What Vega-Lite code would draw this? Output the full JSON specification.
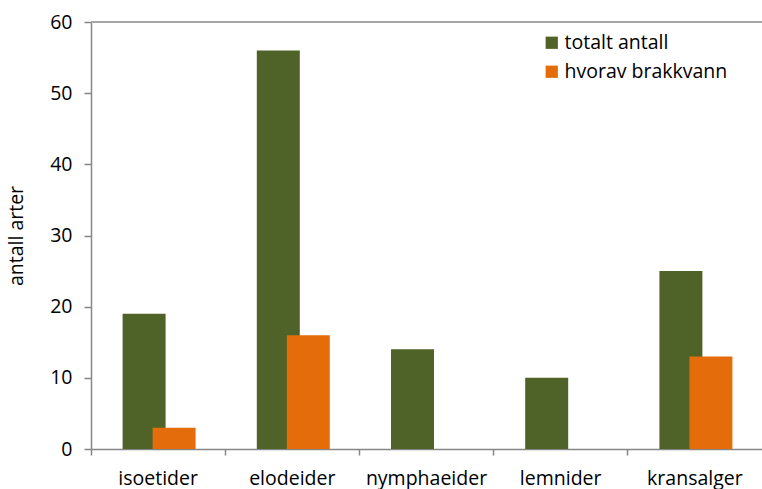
{
  "$schema": "https://vega.github.io/schema/vega-lite/v6.json",
  "width": 671,
  "height": 427,
  "autosize": {"type": "none"},
  "padding": {"left": 91, "top": 22, "right": 0, "bottom": 40},
  "background": "white",
  "config": {
    "view": {"stroke": null},
    "font": "Open Sans"
  },
  "data": {
    "values": [
      {"gruppe": "isoetider", "serie": "totalt antall", "antall": 19},
      {"gruppe": "elodeider", "serie": "totalt antall", "antall": 56},
      {"gruppe": "nymphaeider", "serie": "totalt antall", "antall": 14},
      {"gruppe": "lemnider", "serie": "totalt antall", "antall": 10},
      {"gruppe": "kransalger", "serie": "totalt antall", "antall": 25},
      {"gruppe": "isoetider", "serie": "hvorav brakkvann", "antall": 3},
      {"gruppe": "elodeider", "serie": "hvorav brakkvann", "antall": 16},
      {"gruppe": "nymphaeider", "serie": "hvorav brakkvann", "antall": 0},
      {"gruppe": "lemnider", "serie": "hvorav brakkvann", "antall": 0},
      {"gruppe": "kransalger", "serie": "hvorav brakkvann", "antall": 13}
    ]
  },
  "encoding": {
    "x": {
      "field": "gruppe",
      "type": "nominal",
      "sort": ["isoetider", "elodeider", "nymphaeider", "lemnider", "kransalger"],
      "scale": {"paddingInner": 0, "paddingOuter": 0},
      "axis": {
        "title": null,
        "labelAngle": 0,
        "labelFont": "Open Sans",
        "labelFontSize": 19.5,
        "labelColor": "#000000",
        "labelPadding": 14,
        "bandPosition": 0,
        "tickSize": 6,
        "tickColor": "#868686",
        "tickWidth": 1.5,
        "domainColor": "#868686",
        "domainWidth": 1.5
      }
    },
    "y": {
      "field": "antall",
      "type": "quantitative",
      "scale": {"domain": [0, 60], "nice": false},
      "axis": {
        "title": "antall arter",
        "titleFont": "Open Sans",
        "titleFontSize": 19.5,
        "titleFontWeight": "normal",
        "titleColor": "#000000",
        "titlePadding": 23,
        "values": [0, 10, 20, 30, 40, 50, 60],
        "grid": false,
        "labelFont": "Open Sans",
        "labelFontSize": 19.5,
        "labelColor": "#000000",
        "labelPadding": 12,
        "tickSize": 7,
        "tickColor": "#868686",
        "tickWidth": 1.5,
        "domainColor": "#868686",
        "domainWidth": 1.5
      }
    },
    "color": {
      "field": "serie",
      "type": "nominal",
      "scale": {
        "domain": ["totalt antall", "hvorav brakkvann"],
        "range": ["#4F6228", "#E46C0A"]
      },
      "legend": {
        "title": null,
        "orient": "none",
        "legendX": 451,
        "legendY": 11,
        "symbolType": "square",
        "symbolSize": 150,
        "symbolStrokeWidth": 0,
        "symbolOpacity": 1,
        "labelFont": "Open Sans",
        "labelFontSize": 19.5,
        "labelColor": "#000000",
        "labelOffset": 3,
        "labelLimit": 300,
        "rowPadding": 8
      }
    }
  },
  "layer": [
    {
      "mark": {"type": "rule", "color": "#A6A6A6", "strokeWidth": 1.5},
      "encoding": {"y": {"datum": 60}, "x": null, "color": null}
    },
    {
      "transform": [{"filter": "datum.serie === 'totalt antall'"}],
      "mark": {"type": "bar", "size": 43, "xOffset": -14, "opacity": 1}
    },
    {
      "transform": [{"filter": "datum.serie === 'hvorav brakkvann'"}],
      "mark": {"type": "bar", "size": 43, "xOffset": 16, "opacity": 1}
    }
  ]
}
